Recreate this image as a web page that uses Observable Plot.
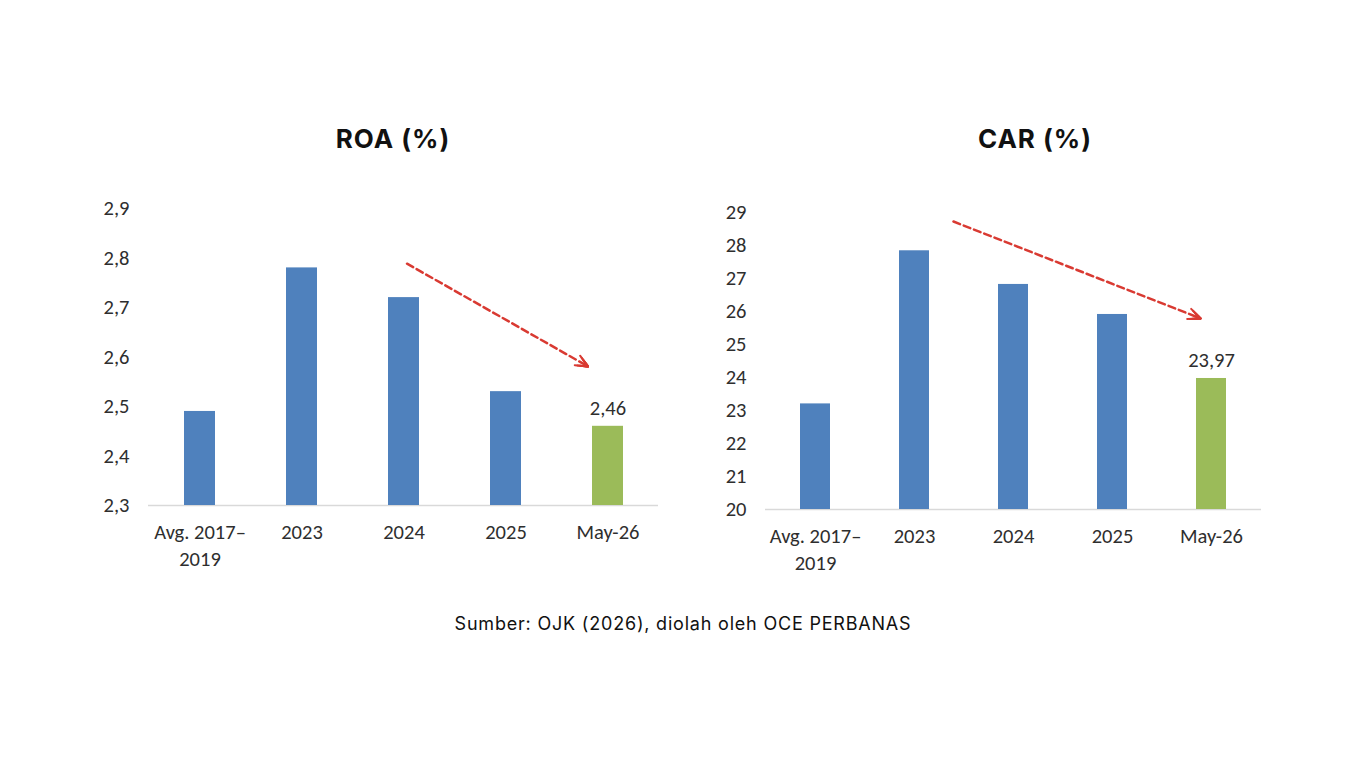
<!DOCTYPE html>
<html>
<head>
<meta charset="utf-8">
<script src="https://cdn.jsdelivr.net/npm/d3@7"></script>
<script src="https://cdn.jsdelivr.net/npm/@observablehq/plot@0.6"></script>
<style>
  html, body { margin: 0; padding: 0; background: #ffffff; }
  #page { position: relative; width: 1366px; height: 768px; overflow: hidden; background: #fff; }
  .title { position: absolute; font-family: Inter, "Open Sans", sans-serif; font-weight: 700; font-size: 26px; letter-spacing: 1px; color: #111; transform: translate(-50%, -50%); white-space: nowrap; }
  .caption { position: absolute; font-family: Inter, "Open Sans", sans-serif; font-size: 18px; letter-spacing: 0.8px; color: #111; transform: translate(-50%, -50%); white-space: nowrap; }
  .chart { position: absolute; }
</style>
</head>
<body>
<div id="page">
  <div class="title" style="left:393px; top:138px;">ROA (%)</div>
  <div class="title" style="left:1035px; top:138px;">CAR (%)</div>
  <div id="roa" class="chart" style="left:40px; top:180px;"></div>
  <div id="car" class="chart" style="left:683px; top:180px;"></div>
  <div class="caption" style="left:683px; top:623px;">Sumber: OJK (2026), diolah oleh OCE PERBANAS</div>
</div>
<script>
// ---- data ----
const categories = ["Avg. 2017–\n2019", "2023", "2024", "2025", "May-26"];
const roaValues = [2.49, 2.78, 2.72, 2.53, 2.46];
const carValues = [23.2, 27.84, 26.82, 25.91, 23.97];
const roaTicks = [2.3, 2.4, 2.5, 2.6, 2.7, 2.8, 2.9];
const carTicks = [20, 21, 22, 23, 24, 25, 26, 27, 28, 29];
const highlightCategory = "May-26";
const roaTrend = [{from: "2024", fromValue: 2.792, to: "May-26", toValue: 2.558}];
const carTrend = [{from: "2023", fromValue: 29.19, to: "May-26", toValue: 25.66}];

const BLUE = "#4f81bd", GREEN = "#9bbb59", RED = "#d93a32", TEXT = "#2e2e2e";
const FONT = 'Carlito, Lato, "Open Sans", sans-serif';
const comma = (s) => String(s).replace(".", ",");

function makeChart({values, ticks, tickFmt, valueFmt, trend, insetStart, insetEnd, arrowLen, margins}) {
  const data = categories.map((c, i) => ({category: c, value: values[i]}));
  const base = ticks[0];
  const top = ticks[ticks.length - 1];
  const headMarks = [10, 8, 6, 4, 2].map(h => Plot.arrow(trend, {
    x1: "from", y1: "fromValue", x2: "to", y2: "toValue",
    insetStart: arrowLen - insetEnd - 4, insetEnd,
    headLength: h, headAngle: 48, stroke: RED, strokeWidth: 2
  }));
  return Plot.plot({
    width: 640,
    height: 400,
    ...margins,
    style: {fontFamily: FONT, color: TEXT, background: "transparent", overflow: "visible"},
    x: {domain: categories, paddingInner: 0.7, paddingOuter: 0.35, label: null},
    y: {domain: [base, top], label: null},
    marks: [
      Plot.ruleY([base], {stroke: "#d9d9d9", strokeWidth: 1.5}),
      Plot.barY(data, {
        x: "category", y1: () => base, y2: "value",
        fill: d => d.category === highlightCategory ? GREEN : BLUE
      }),
      Plot.text(data.filter(d => d.category === highlightCategory), {
        x: "category", y: "value", text: d => valueFmt(d.value),
        dy: -18, fontSize: 20.5, fill: TEXT
      }),
      Plot.arrow(trend, {
        x1: "from", y1: "fromValue", x2: "to", y2: "toValue",
        insetStart, insetEnd, headLength: 0,
        stroke: RED, strokeWidth: 2.5, strokeDasharray: "7,4"
      }),
      ...headMarks,
      Plot.axisY({ticks, tickSize: 0, tickPadding: 19, tickFormat: tickFmt, fontSize: 20.5, label: null}),
      Plot.axisX({tickSize: 0, tickPadding: 15, fontSize: 20.5, lineHeight: 1.3, label: null})
    ]
  });
}

document.getElementById("roa").append(makeChart({
  values: roaValues, ticks: roaTicks,
  tickFmt: d => comma(d.toFixed(1)), valueFmt: d => comma(d.toFixed(2)),
  trend: roaTrend, insetStart: 3.5, insetEnd: 23, arrowLen: 235.5,
  margins: {marginLeft: 108, marginRight: 22, marginTop: 28, marginBottom: 75}
}));

document.getElementById("car").append(makeChart({
  values: carValues, ticks: carTicks,
  tickFmt: d => String(d), valueFmt: d => comma(d.toFixed(2)),
  trend: carTrend, insetStart: 41.9, insetEnd: 11.8, arrowLen: 319.1,
  margins: {marginLeft: 82, marginRight: 62, marginTop: 32, marginBottom: 71}
}));
</script>
</body>
</html>
